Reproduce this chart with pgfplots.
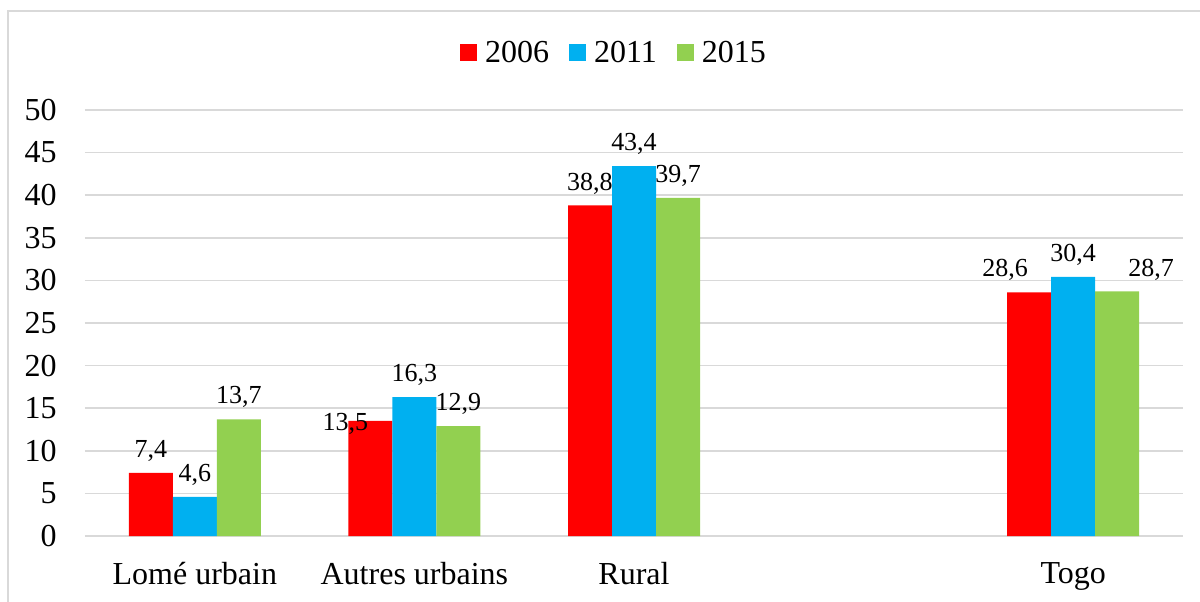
\documentclass[border=0pt]{standalone}
\usepackage{pgfplots}
\pgfplotsset{compat=1.18}
\usepackage{pgfplotstable}
\usepackage{fontspec}
\setmainfont{Liberation Serif}
\definecolor{cRed}{HTML}{FF0000}
\definecolor{cBlue}{HTML}{00B0F0}
\definecolor{cGreen}{HTML}{92D050}
\definecolor{gridgray}{HTML}{D9D9D9}

\pgfplotstableread{
x y dx dy
0 7.4 0 0
1 13.5 -12.5 -12.5
2 38.8 0 0
4 28.6 -12 0
}\dataA
\pgfplotstableread{
x y dx dy
0 4.6 0 0
1 16.3 0 0
2 43.4 0 0
4 30.4 0 0
}\dataB
\pgfplotstableread{
x y dx dy
0 13.7 0 0
1 12.9 0 0
2 39.7 0 0
4 28.7 17 0
}\dataC

\begin{document}
\begin{tikzpicture}
\useasboundingbox (0,0) rectangle (600pt,300.5pt);
\draw[gridgray, line width=0.75pt] (4pt,-2pt) -- (4pt,295pt) -- (602pt,295pt);
\begin{axis}[
  at={(42.5pt,32.5pt)}, anchor=south west,
  scale only axis, width=549pt, height=213pt,
  ybar=0pt, bar width=22pt,
  xmin=-0.5, xmax=4.5, ymin=0, ymax=50,
  xtick={0,1,2,4}, xticklabels={Lomé urbain, Autres urbains, Rural, Togo},
  ytick={0,5,...,50},
  major tick length=0pt,
  axis line style={draw=none},
  ymajorgrids, grid style={gridgray, line width=0.75pt},
  /pgf/number format/assume math mode=true,
  tick label style={font=\fontsize{16}{19}\selectfont, inner sep=0pt},
  yticklabel style={xshift=-14pt},
  xticklabel style={yshift=-13pt},
  legend columns=3,
  legend style={at={(0.4827,1.134)}, anchor=center, draw=none, fill=none,
    font=\fontsize{16}{19}\selectfont, inner sep=0pt,
    /tikz/every odd column/.append style={column sep=2pt},
    /tikz/every even column/.append style={column sep=8pt}},
  legend image code/.code={\fill[#1] (0pt,-4.25pt) rectangle (8.5pt,4.25pt);},
  nodes near coords={\pgfmathprintnumber[fixed,fixed zerofill,precision=1,use comma,assume math mode=true]{\pgfplotspointmeta}},
  every node near coord/.append style={font=\fontsize{13}{15}\selectfont, inner sep=0pt, anchor=south, text=black},
  visualization depends on={\thisrow{dx} \as \dx},
  visualization depends on={\thisrow{dy} \as \dy},
  nodes near coords style={xshift=\dx pt, yshift=5.5pt+\dy pt},
]
\addplot[fill=cRed, draw=none] table[x=x,y=y] {\dataA};
\addplot[fill=cBlue, draw=none] table[x=x,y=y] {\dataB};
\addplot[fill=cGreen, draw=none] table[x=x,y=y] {\dataC};
\legend{2006,2011,2015}
\end{axis}
\end{tikzpicture}
\end{document}
